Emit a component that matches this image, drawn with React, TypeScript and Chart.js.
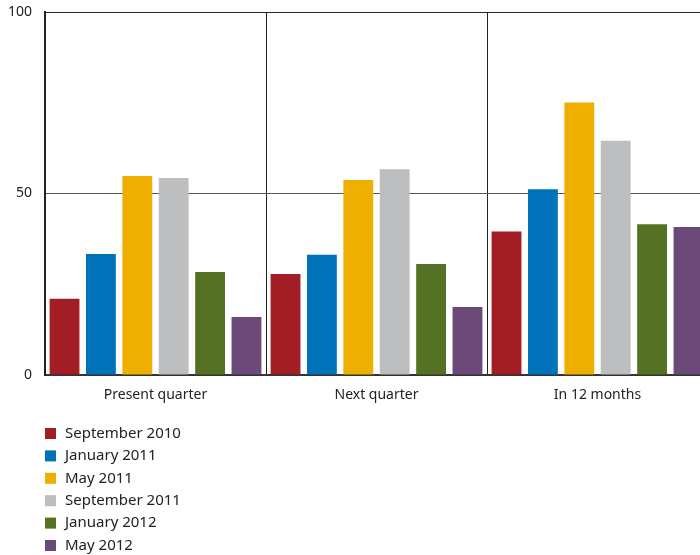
import React, { useEffect, useRef } from "react";
import { Chart, registerables } from "chart.js";

Chart.register(...registerables);

const categories = ["Present quarter", "Next quarter", "In 12 months"];
const seriesLabels = ["September 2010", "January 2011", "May 2011", "September 2011", "January 2012", "May 2012"];
const sep2010 = [21, 27.8, 39.5];
const jan2011 = [33.3, 33.1, 51.2];
const may2011 = [54.8, 53.7, 75.1];
const sep2011 = [54.3, 56.7, 64.5];
const jan2012 = [28.4, 30.6, 41.5];
const may2012 = [16.0, 18.7, 40.8];
const seriesColors = ["#A21D24", "#0072BA", "#EEAF00", "#BDBEC0", "#557224", "#6B4A7A"];
const yTicks = [0, 50, 100];

const FONT = '"Noto Sans", sans-serif';

const legendPlugin = {
  id: "customLegend",
  afterDraw(chart: any) {
    const ctx = chart.ctx;
    const x0 = chart.chartArea.left;
    const y0 = chart.chartArea.bottom + 58.5;
    ctx.save();
    ctx.font = `15px ${FONT}`;
    ctx.textBaseline = "middle";
    ctx.textAlign = "left";
    chart.data.datasets.forEach((ds: any, i: number) => {
      const cy = y0 + i * 22.4;
      ctx.fillStyle = ds.backgroundColor;
      ctx.fillRect(x0, cy - 5.5, 11, 11);
      ctx.fillStyle = "#222";
      ctx.fillText(ds.label, x0 + 20, cy);
    });
    ctx.restore();
  },
};

export default function App() {
  const ref = useRef<HTMLCanvasElement | null>(null);
  useEffect(() => {
    if (!ref.current) return;
    const values = [sep2010, jan2011, may2011, sep2011, jan2012, may2012];
    const chart = new Chart(ref.current, {
      type: "bar",
      data: {
        labels: categories,
        datasets: values.map((v, i) => ({
          label: seriesLabels[i],
          data: v,
          backgroundColor: seriesColors[i],
          borderWidth: 0,
          barPercentage: 0.82,
          categoryPercentage: 0.988,
        })),
      },
      options: {
        animation: false,
        responsive: true,
        maintainAspectRatio: false,
        layout: { padding: { top: 12, left: 0, right: 0, bottom: 0 } },
        plugins: { legend: { display: false }, tooltip: { enabled: false } },
        scales: {
          x: {
            offset: true,
            grid: { display: true, offset: true, color: "#222", lineWidth: 1, drawTicks: false },
            border: { display: true, color: "#333", width: 2 },
            ticks: { color: "#222", font: { family: FONT, size: 14 }, padding: 12 },
            afterFit: (s: any) => {
              s.height = 180;
            },
          },
          y: {
            min: 0,
            max: 100,
            afterBuildTicks: (s: any) => {
              s.ticks = yTicks.map((v) => ({ value: v }));
            },
            grid: {
              drawTicks: false,
              color: (c: any) => (c.tick && c.tick.value === 100 ? "#222" : "#555"),
              lineWidth: 1,
            },
            border: { display: true, color: "#222", width: 2 },
            ticks: { color: "#222", font: { family: FONT, size: 14 }, padding: 13 },
            afterFit: (s: any) => {
              s.width = 45;
              s.paddingTop = 0;
              s.paddingBottom = 0;
            },
          },
        },
      },
      plugins: [legendPlugin],
    });
    return () => chart.destroy();
  }, []);
  return (
    <div style={{ position: "fixed", left: 0, top: 0, width: 700, height: 555, overflow: "hidden", background: "#fff" }}>
      <div style={{ position: "relative", width: 708, height: 555 }}>
        <canvas ref={ref} />
      </div>
    </div>
  );
}
